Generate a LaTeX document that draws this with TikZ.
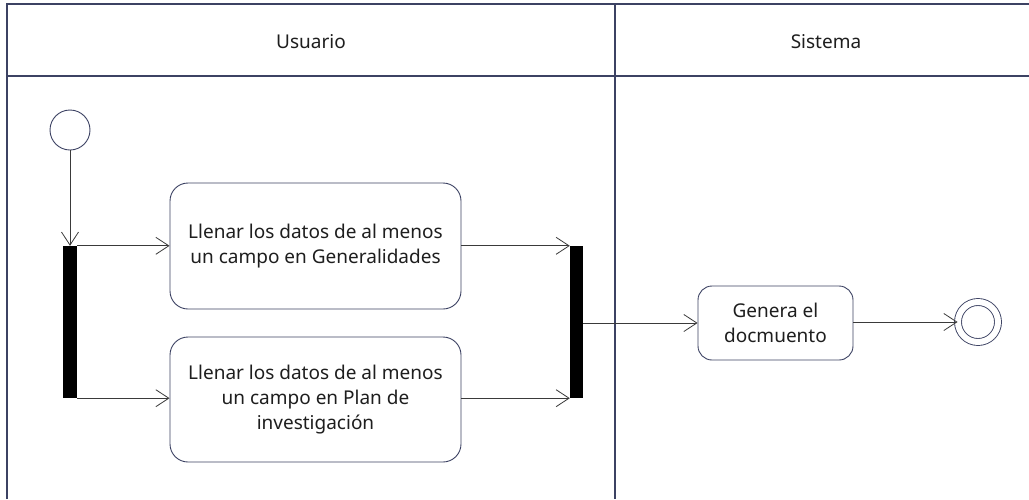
\documentclass[tikz,border=0pt]{standalone}
\usepackage{fontspec}
\setmainfont{Noto Sans}
\usetikzlibrary{arrows.meta,positioning}

\definecolor{lanecol}{HTML}{3C4263}
\definecolor{linecol}{HTML}{3A3A3A}
\definecolor{txtcol}{HTML}{1E1E1E}

\begin{document}
\begin{tikzpicture}[x=1pt,y=-1pt]
\tikzset{
lane/.style = {draw=lanecol, line width=1.3pt},
action/.style = {
shape = rectangle,
rounded corners = 18pt,
draw = lanecol,
line width = 0.9pt,
fill = white,
align = center,
text = txtcol,
font = \fontsize{19}{25}\selectfont,
inner sep = 0pt},
bar/.style = {
shape = rectangle,
fill = black,
inner sep = 0pt,
minimum width = 14pt,
minimum height = 152pt},
initial/.style = {
shape = circle,
draw = lanecol,
fill = white,
line width = 0.9pt,
inner sep = 0pt,
minimum size = 40pt},
final/.style = {
shape = circle,
draw = lanecol,
fill = white,
line width = 0.9pt,
double = white,
double distance = 6pt,
inner sep = 0pt,
minimum size = 40pt},
flow/.style = {draw=linecol, line width=0.8pt,
-{Straight Barb[length=13pt,width=17pt]}}
}
\useasboundingbox (0,0) rectangle (1029,499);
\fill[white] (0,0) rectangle (1029,499);
% swimlanes
\draw[lane] (7,499) -- (7,4) -- (1029,4);
\draw[lane] (7,76) -- (1029,76);
\draw[lane] (615,4) -- (615,499);
\node[text=txtcol, font=\fontsize{19}{22}\selectfont] (usuario) at (311,42) {Usuario};
\node[text=txtcol, font=\fontsize{19}{22}\selectfont] (sistema) at (826,42) {Sistema};
% nodes
\node[initial] (inicio) at (70,130) {};
\node[bar] (fork) at (70,322) {};
\node[action, minimum width=291pt, minimum height=126pt] (generalidades) at (315.5,246)
{Llenar los datos de al menos\\un campo en Generalidades};
\node[action, minimum width=291pt, minimum height=125pt] (plan) at (315.5,399.5)
{Llenar los datos de al menos\\un campo en Plan de\\investigación};
\node[bar, minimum width=13pt] (join) at (576.5,322) {};
\node[action, minimum width=155pt, minimum height=74pt, rounded corners=14pt] (genera) at (775.5,323)
{Genera el\\docmuento};
\node[final] (fin) at (978,322) {};
% flows
\draw[flow] (inicio) -- (fork.north -| inicio);
\draw[flow] (fork.north east) -- (generalidades.west |- fork.north east);
\draw[flow] (fork.south east) -- (plan.west |- fork.south east);
\draw[flow] (generalidades.east |- join.north west) -- (join.north west);
\draw[flow] (plan.east |- join.south west) -- (join.south west);
\draw[flow] (join.east |- genera.west) -- (genera.west);
\draw[flow] (genera.east |- fin.west) -- (fin.west);
\end{tikzpicture}
\end{document}
